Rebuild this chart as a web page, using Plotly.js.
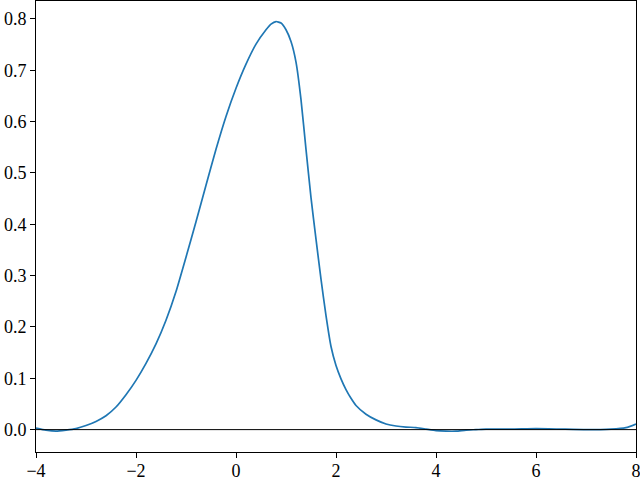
<!DOCTYPE html>
<html>
<head>
<meta charset="utf-8">
<script src="https://cdn.plot.ly/plotly-3.0.1.min.js"></script>
<style>
  html, body { margin: 0; padding: 0; background: #fff; }
  #chart { width: 640px; height: 480px; }
</style>
</head>
<body>
<div id="chart"></div>
<script>
// curve
const xs = [-4.0, -3.8, -3.6, -3.4, -3.2, -3.0, -2.8, -2.6, -2.4, -2.2,
  -2.0, -1.8, -1.6, -1.4, -1.2, -1.0, -0.8, -0.6, -0.4, -0.2,
  0.0, 0.2, 0.4, 0.6, 0.7, 0.8, 0.9, 1.0, 1.1, 1.2,
  1.3, 1.4, 1.5, 1.6, 1.7, 1.8, 1.9, 2.0, 2.1, 2.2, 2.3, 2.4,
  2.6, 2.8, 3.0, 3.2, 3.4, 3.6, 3.8, 4.0, 4.2, 4.4,
  4.6, 4.8, 5.0, 5.5, 6.0, 6.5, 7.0, 7.5, 7.8, 8.0];
const ys = [0.003, -0.001, -0.003, -0.001, 0.002, 0.008, 0.016, 0.027, 0.044, 0.068,
  0.096, 0.129, 0.167, 0.213, 0.269, 0.336, 0.405, 0.476, 0.546, 0.610,
  0.665, 0.712, 0.751, 0.779, 0.790, 0.795, 0.792, 0.779, 0.756, 0.716,
  0.643, 0.546, 0.452, 0.371, 0.293, 0.222, 0.162, 0.125, 0.099, 0.078, 0.061, 0.047,
  0.030, 0.019, 0.011, 0.007, 0.005, 0.004, 0.001, -0.002, -0.003, -0.003,
  -0.001, 0.000, 0.001, 0.001, 0.002, 0.001, 0.000, 0.001, 0.004, 0.011];

const yTicks = [0.0, 0.1, 0.2, 0.3, 0.4, 0.5, 0.6, 0.7, 0.8];
const yTickText = ['0.0', '0.1', '0.2', '0.3', '0.4', '0.5', '0.6', '0.7', '0.8'];
const xTicks = [-4, -2, 0, 2, 4, 6, 8];
const xTickText = ['\u22124', '\u22122', '0', '2', '4', '6', '8'];

const trace = {
  x: xs,
  y: ys,
  type: 'scatter',
  mode: 'lines',
  line: { color: '#1f77b4', width: 1.7, shape: 'spline', smoothing: 0.5 },
  hoverinfo: 'skip'
};

const axisBase = {
  showline: true,
  linecolor: 'black',
  linewidth: 1,
  mirror: true,
  ticks: 'outside',
  ticklen: 5,
  tickwidth: 1,
  tickcolor: 'black',
  showgrid: false,
  zeroline: false,
  ticklabeloverflow: 'allow',
  tickfont: { family: 'Liberation Serif, DejaVu Serif, serif', size: 18, color: 'black' }
};

const layout = {
  width: 640,
  height: 480,
  margin: { l: 36, r: 4, t: 1, b: 28 },
  paper_bgcolor: 'white',
  plot_bgcolor: 'white',
  showlegend: false,
  xaxis: Object.assign({}, axisBase, {
    range: [-4, 8],
    tickmode: 'array',
    tickvals: xTicks,
    ticktext: xTickText,
    ticklabelstandoff: -3
  }),
  yaxis: Object.assign({}, axisBase, {
    range: [-0.0436, 0.835],
    tickmode: 'array',
    tickvals: yTicks,
    ticktext: yTickText
  }),
  // horizontal reference line at y = 0, drawn over the curve
  shapes: [{
    type: 'line', xref: 'paper', x0: 0, x1: 1, yref: 'y', y0: 0, y1: 0,
    line: { color: 'black', width: 1 }, layer: 'above'
  }]
};

Plotly.newPlot('chart', [trace], layout, { displayModeBar: false, staticPlot: true });
</script>
</body>
</html>
